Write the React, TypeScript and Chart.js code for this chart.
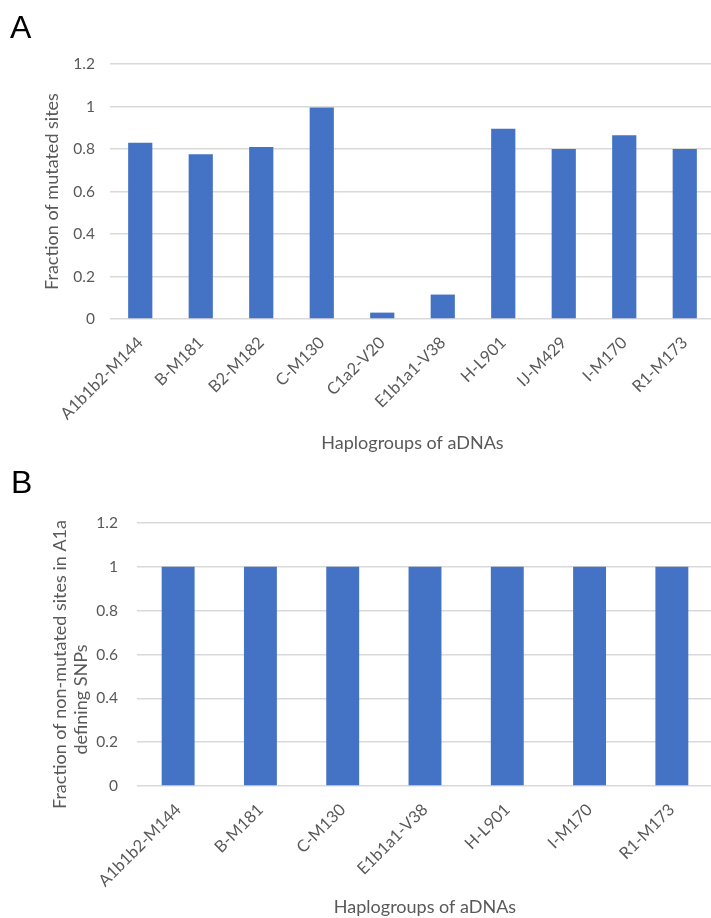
import React, { useEffect, useRef } from "react";
import { Chart, registerables } from "chart.js";

Chart.register(...registerables);

// ---------- data ----------
const categoriesA = [
  "A1b1b2-M144",
  "B-M181",
  "B2-M182",
  "C-M130",
  "C1a2-V20",
  "E1b1a1-V38",
  "H-L901",
  "IJ-M429",
  "I-M170",
  "R1-M173",
];
const valuesA = [0.83, 0.775, 0.81, 0.995, 0.03, 0.115, 0.895, 0.8, 0.865, 0.8];

const categoriesB = [
  "A1b1b2-M144",
  "B-M181",
  "C-M130",
  "E1b1a1-V38",
  "H-L901",
  "I-M170",
  "R1-M173",
];
const valuesB = [1, 1, 1, 1, 1, 1, 1];

const yMin = 0;
const yMax = 1.2;
const yStep = 0.2;

const yTitleA = "Fraction of mutated sites";
const yTitleB = ["Fraction of non-mutated sites in A1a", "defining SNPs"];
const xTitle = "Haplogroups of aDNAs";
const panelA = "A";
const panelB = "B";

// ---------- styles ----------
const BAR = "#4472C4";
const GRID = "#D9D9D9";
const TEXT = "#595959";
const FONT = "Lato, 'Open Sans', sans-serif";
const TITLE_SIZE = 18;

const manualYTitle = {
  id: "manualYTitle",
  afterDraw(chart: any, _args: any, opts: any) {
    if (!opts || !opts.lines || !opts.lines.length) return;
    const { ctx, chartArea } = chart;
    const cy = (chartArea.top + chartArea.bottom) / 2;
    ctx.save();
    ctx.font = `${opts.size}px ${FONT}`;
    ctx.fillStyle = TEXT;
    ctx.textAlign = "center";
    ctx.textBaseline = "middle";
    opts.lines.forEach((t: string, i: number) => {
      ctx.save();
      ctx.translate(opts.xs[i], cy + opts.dys[i]);
      ctx.rotate(-Math.PI / 2);
      ctx.fillText(t, 0, 0);
      ctx.restore();
    });
    ctx.restore();
  },
};

type Cfg = {
  labels: string[];
  values: number[];
  yAxisWidth: number;
  xAxisHeight: number;
  padTop: number;
  padRight: number;
  yTickPad: number;
  xTickPad: number;
  yTitle: string | null;
  yTitlePad: number;
  xTitlePadBottom: number;
  manual: any;
};

function makeConfig(c: Cfg): any {
  return {
    type: "bar",
    data: {
      labels: c.labels,
      datasets: [
        {
          data: c.values,
          backgroundColor: BAR,
          borderWidth: 0,
          categoryPercentage: 1,
          barPercentage: 0.4,
        },
      ],
    },
    plugins: [manualYTitle],
    options: {
      responsive: false,
      animation: false,
      devicePixelRatio: 1,
      layout: {
        padding: { top: c.padTop, right: c.padRight, left: 0, bottom: 0 },
      },
      plugins: {
        legend: { display: false },
        tooltip: { enabled: false },
        manualYTitle: c.manual,
      },
      scales: {
        x: {
          grid: { display: false, drawTicks: false },
          border: { display: false },
          ticks: {
            autoSkip: false,
            maxRotation: 45,
            minRotation: 45,
            padding: c.xTickPad,
            color: TEXT,
            font: { family: FONT, size: 16.5 },
          },
          title: {
            display: true,
            text: xTitle,
            color: TEXT,
            font: { family: FONT, size: TITLE_SIZE },
            padding: { top: 0, bottom: c.xTitlePadBottom },
          },
          afterFit(scale: any) {
            scale.height = c.xAxisHeight;
          },
        },
        y: {
          min: yMin,
          max: yMax,
          grid: { color: GRID, lineWidth: 1.5, drawTicks: false },
          border: { display: false },
          ticks: {
            stepSize: yStep,
            padding: c.yTickPad,
            color: TEXT,
            font: { family: FONT, size: 15.5 },
            callback: (v: number) => String(Number(v.toFixed(1))),
          },
          title: {
            display: !!c.yTitle,
            text: c.yTitle || "",
            color: TEXT,
            font: { family: FONT, size: TITLE_SIZE },
            padding: { top: c.yTitlePad, bottom: 0 },
          },
          afterFit(scale: any) {
            scale.width = c.yAxisWidth;
          },
        },
      },
    },
  };
}

function BarPanel(props: { cfg: Cfg; width: number; height: number; top: number }) {
  const ref = useRef<HTMLCanvasElement | null>(null);
  useEffect(() => {
    if (!ref.current) return;
    const chart = new Chart(ref.current, makeConfig(props.cfg));
    return () => chart.destroy();
  }, []);
  return (
    <canvas
      ref={ref}
      width={props.width}
      height={props.height}
      style={{
        position: "absolute",
        left: 0,
        top: props.top,
        width: props.width,
        height: props.height,
      }}
    />
  );
}

const cfgA: Cfg = {
  labels: categoriesA,
  values: valuesA,
  yAxisWidth: 110,
  xAxisHeight: 141,
  padTop: 64,
  padRight: 5,
  yTickPad: 15,
  xTickPad: 14,
  yTitle: yTitleA,
  yTitlePad: 41,
  xTitlePadBottom: 6,
  manual: null,
};

const cfgB: Cfg = {
  labels: categoriesB,
  values: valuesB,
  yAxisWidth: 137,
  xAxisHeight: 132,
  padTop: 63,
  padRight: 7,
  yTickPad: 19,
  xTickPad: 14,
  yTitle: null,
  yTitlePad: 0,
  xTitlePadBottom: 0,
  manual: {
    lines: yTitleB,
    xs: [60, 81],
    dys: [10, 45],
    size: TITLE_SIZE,
  },
};

export default function App() {
  const letter: React.CSSProperties = {
    position: "absolute",
    fontFamily: "'Liberation Sans', Arial, sans-serif",
    fontSize: 32,
    lineHeight: "32px",
    color: "#000",
  };
  return (
    <div
      style={{
        position: "absolute",
        left: 0,
        top: 0,
        width: 711,
        height: 918,
        overflow: "hidden",
        background: "#fff",
      }}
    >
      <BarPanel cfg={cfgA} width={720} height={460} top={0} />
      <BarPanel cfg={cfgB} width={720} height={458} top={460} />
      <div style={{ ...letter, left: 10, top: 11 }}>{panelA}</div>
      <div style={{ ...letter, left: 11, top: 466 }}>{panelB}</div>
    </div>
  );
}
